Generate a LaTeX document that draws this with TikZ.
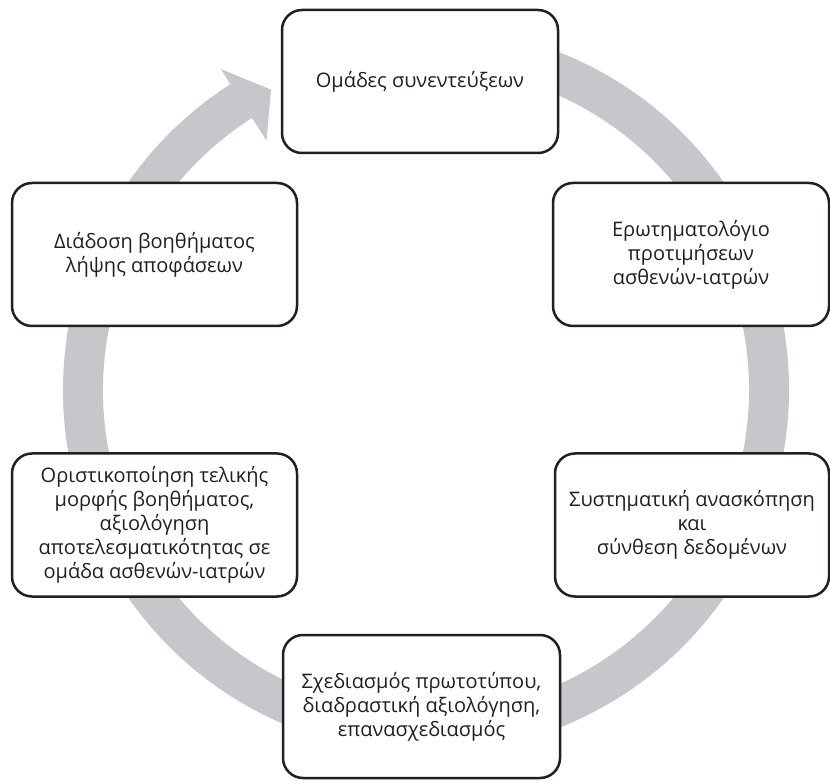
\documentclass[tikz,border=0pt]{standalone}
\usepackage{fontspec}
\setmainfont{Open Sans}
\usetikzlibrary{calc}
\definecolor{ringgray}{RGB}{198,199,202}
\definecolor{edgeblack}{RGB}{35,31,32}
\tikzset{
  stage/.style={draw=edgeblack, line width=2.5pt, fill=white,
    rounded corners=20pt, align=center, minimum height=143pt,
    inner xsep=2pt, text=edgeblack, font=\fontsize{20}{24}\selectfont},
}

\begin{document}
\begin{tikzpicture}[x=1pt,y=1pt]
  \useasboundingbox[fill=white] (0,0) rectangle (830,780);
  \coordinate (c) at (426,390);

  % the gray cycle arrow, behind the boxes
  \begin{scope}[ringgray]
    \draw[line width=40pt] ($(c)+(80:343pt)$)
      arc[start angle=80, end angle=-237.4, radius=343pt];
    \fill ($(c)+(122.6:296pt)$) -- ($(c)+(117.3:338pt)$)
      -- ($(c)+(122.6:381pt)$) -- cycle;
  \end{scope}

  \begin{scope}[every node/.style={stage}]
    \node[minimum width=276pt] (interviews) at (420,698.5)
      {Ομάδες συνεντεύξεων};
    \node[minimum width=276pt] (questionnaire) at (691,525.5)
      {Ερωτηματολόγιο\\προτιμήσεων\\ασθενών-ιατρών};
    \node[minimum width=274pt] (review) at (692,255)
      {Συστηματική ανασκόπηση\\και\\σύνθεση δεδομένων};
    \node[minimum width=277pt] (prototype) at (421.5,73.5)
      {Σχεδιασμός πρωτοτύπου,\\διαδραστική αξιολόγηση,\\επανασχεδιασμός};
    \node[minimum width=285pt] (finalize) at (154.5,255)
      {Οριστικοποίηση τελικής\\μορφής βοηθήματος,\\αξιολόγηση\\αποτελεσματικότητας σε\\ομάδα ασθενών-ιατρών};
    \node[minimum width=285pt] (spread) at (154.5,525.5)
      {Διάδοση βοηθήματος\\λήψης αποφάσεων};
  \end{scope}
\end{tikzpicture}
\end{document}
